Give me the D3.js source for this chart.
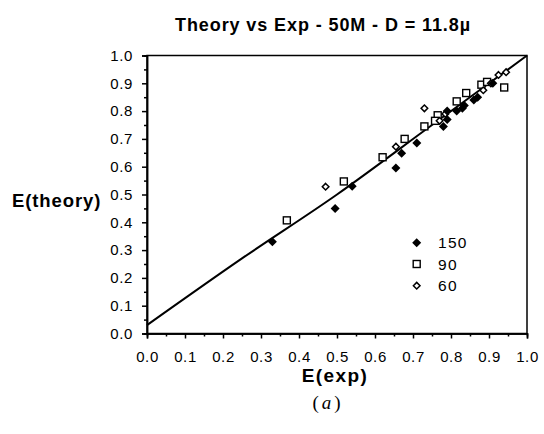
<!DOCTYPE html>
<html><head><meta charset="utf-8">
<script src="https://cdn.jsdelivr.net/npm/d3@7"></script>
<style>body{margin:0;background:#fff}svg{display:block}</style>
</head><body>
<svg id="c" width="544" height="434"></svg>
<script>
const xTicks = [0,0.1,0.2,0.3,0.4,0.5,0.6,0.7,0.8,0.9,1.0];
const yTicks = [0,0.1,0.2,0.3,0.4,0.5,0.6,0.7,0.8,0.9,1.0];
const series150 = [[0.33,0.33],[0.495,0.45],[0.54,0.53],[0.655,0.595],[0.67,0.648],[0.71,0.685],[0.78,0.745],[0.79,0.77],[0.79,0.80],[0.815,0.80],[0.83,0.81],[0.835,0.82],[0.86,0.84],[0.87,0.85],[0.91,0.90]];
const series90 = [[0.368,0.407],[0.518,0.547],[0.62,0.634],[0.678,0.70],[0.73,0.745],[0.765,0.785],[0.758,0.765],[0.815,0.835],[0.84,0.865],[0.88,0.895],[0.895,0.905],[0.94,0.885]];
const series60 = [[0.47,0.528],[0.655,0.672],[0.73,0.81],[0.77,0.765],[0.785,0.79],[0.885,0.875],[0.905,0.90],[0.925,0.93],[0.945,0.94]];
const theoryX = [0,0.25,0.5,0.75,1.0];
const theoryY = [0.03,0.27,0.50,0.75,1.0];
const legendLabels = ["150","90","60"];

const svg = d3.select("#c");
const L=147,R=527,T=55.5,B=333.5;
const x = d3.scaleLinear().domain([0,1]).range([L,R]);
const y = d3.scaleLinear().domain([0,1]).range([B,T]);
const font = "'Liberation Sans', Arial, sans-serif";

// frame
svg.append("rect").attr("x",L).attr("y",T).attr("width",R-L).attr("height",B-T)
  .attr("fill","none").attr("stroke","#000").attr("stroke-width",1.5);

// axes
const minor = d3.range(0.05,1,0.1);
const xa = svg.append("g").attr("transform",`translate(0,${B})`)
  .call(d3.axisBottom(x).tickValues(xTicks).tickFormat(d3.format(".1f")).tickSize(5).tickPadding(20));
const xm = svg.append("g").attr("transform",`translate(0,${B})`)
  .call(d3.axisBottom(x).tickValues(minor).tickFormat("").tickSize(3));
const ya = svg.append("g").attr("transform",`translate(${L},0)`)
  .call(d3.axisLeft(y).tickValues(yTicks).tickFormat(d3.format(".1f")).tickSize(5).tickPadding(9));
const ym = svg.append("g").attr("transform",`translate(${L},0)`)
  .call(d3.axisLeft(y).tickValues(minor).tickFormat("").tickSize(3));
[xa,xm,ya,ym].forEach(g=>{
  g.select(".domain").attr("stroke-width",1.5);
  g.selectAll(".tick line").attr("stroke-width",1.5);
  g.selectAll("text").attr("font-family",font).attr("font-size",15).attr("letter-spacing",0.6).attr("fill","#000");
});
xa.selectAll("text").attr("dy","0.2em");

// theory line
svg.append("path").datum(theoryX.map((v,i)=>[v,theoryY[i]]))
  .attr("d",d3.line().x(d=>x(d[0])).y(d=>y(d[1])).curve(d3.curveMonotoneX))
  .attr("fill","none").attr("stroke","#000").attr("stroke-width",2);

const diamond = s => `M0,${-s}L${s},0L0,${s}L${-s},0Z`;
function marker(g, type, cx, cy){
  if(type==="150") g.append("path").attr("d",diamond(4.5)).attr("transform",`translate(${cx},${cy})`).attr("fill","#000");
  else if(type==="90") g.append("rect").attr("x",cx-3.5).attr("y",cy-3.5).attr("width",7).attr("height",7).attr("fill","#fff").attr("stroke","#000").attr("stroke-width",1.4);
  else g.append("path").attr("d",diamond(3.3)).attr("transform",`translate(${cx},${cy})`).attr("fill","#fff").attr("stroke","#000").attr("stroke-width",1.5);
}
function draw(data, type){
  const g = svg.append("g");
  data.forEach(d=>marker(g,type,x(d[0]),y(d[1])));
}
draw(series90,"90");
draw(series60,"60");
draw(series150,"150");

// legend
const legY=[242.7,264,285.7];
legendLabels.forEach((lab,i)=>{
  marker(svg, lab, 416.7, legY[i]);
  svg.append("text").attr("x",438).attr("y",legY[i]+5.5).attr("font-family",font).attr("font-size",15.5)
    .attr("letter-spacing",1.3).text(lab);
});

// titles
svg.append("text").attr("x",323).attr("y",31).attr("text-anchor","middle").attr("font-family",font)
  .attr("font-weight","bold").attr("font-size",18).attr("letter-spacing",0.9).text("Theory vs Exp - 50M - D = 11.8\u00b5");
svg.append("text").attr("x",335).attr("y",382).attr("text-anchor","middle").attr("font-family",font)
  .attr("font-weight","bold").attr("font-size",19).attr("letter-spacing",1.4).text("E(exp)");
svg.append("text").attr("x",12).attr("y",207).attr("font-family",font)
  .attr("font-weight","bold").attr("font-size",18.5).attr("letter-spacing",0.9).text("E(theory)");
svg.append("text").attr("x",328).attr("y",409).attr("text-anchor","middle").attr("font-family","'Liberation Serif', serif")
  .attr("font-size",19).attr("letter-spacing",3).html("(<tspan font-style='italic'>a</tspan>)");
</script>
</body></html>
